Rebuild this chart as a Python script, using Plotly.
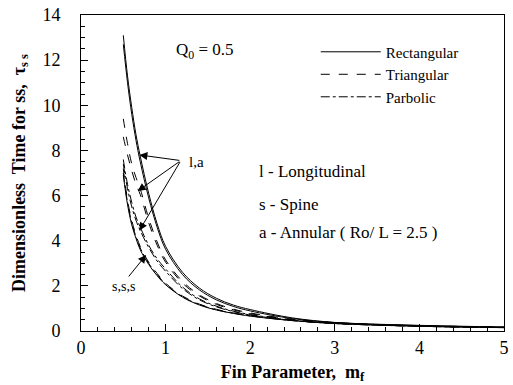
import plotly.graph_objects as go

# Fin parameter grid (x values)
m_f = [0.5, 0.55, 0.6, 0.65, 0.7, 0.8, 0.9, 1.0, 1.2, 1.4, 1.6, 1.8, 2.0, 2.5, 3.0, 3.5, 4.0, 4.5, 5.0]

# Rectangular profile (solid)
rect_long = [13.1, 11.3, 9.9, 8.7, 7.75, 6.1, 4.75, 3.75, 2.6, 1.9, 1.45, 1.15, 0.95, 0.58, 0.38, 0.30, 0.25, 0.21, 0.18]
rect_ann = [12.7, 11.0, 9.6, 8.45, 7.5, 5.9, 4.6, 3.62, 2.5, 1.82, 1.38, 1.09, 0.89, 0.55, 0.37, 0.29, 0.24, 0.20, 0.17]
rect_spine = [6.9, 5.6, 4.7, 4.1, 3.6, 2.95, 2.45, 2.05, 1.5, 1.15, 0.93, 0.78, 0.66, 0.46, 0.33, 0.26, 0.21, 0.17, 0.15]

# Triangular profile (dashed)
tri_long = [9.4, 8.3, 7.4, 6.8, 6.3, 5.0, 3.95, 3.15, 2.2, 1.6, 1.22, 0.97, 0.80, 0.52, 0.37, 0.29, 0.23, 0.20, 0.17]
tri_ann = [8.6, 7.8, 7.1, 6.5, 6.05, 4.8, 3.8, 3.05, 2.12, 1.55, 1.18, 0.94, 0.77, 0.50, 0.36, 0.28, 0.22, 0.19, 0.16]
tri_spine = [7.2, 5.8, 4.9, 4.25, 3.75, 3.05, 2.55, 2.12, 1.55, 1.19, 0.96, 0.80, 0.68, 0.47, 0.34, 0.27, 0.21, 0.18, 0.15]

# Parabolic profile (dash-dot)
para_long = [7.6, 6.5, 5.7, 5.05, 4.6, 3.8, 3.2, 2.75, 1.95, 1.42, 1.10, 0.88, 0.73, 0.48, 0.35, 0.27, 0.22, 0.18, 0.16]
para_ann = [7.4, 6.3, 5.5, 4.9, 4.45, 3.7, 3.1, 2.65, 1.88, 1.38, 1.07, 0.86, 0.71, 0.47, 0.34, 0.26, 0.21, 0.18, 0.15]
para_spine = [7.0, 5.7, 4.8, 4.18, 3.68, 3.0, 2.5, 2.08, 1.52, 1.17, 0.94, 0.79, 0.67, 0.46, 0.33, 0.26, 0.21, 0.17, 0.15]

profiles = ["Rectangular", "Triangular", "Parbolic"]
dashes = ["solid", "dash", "dashdot"]
series = [
    [rect_long, rect_ann, rect_spine],
    [tri_long, tri_ann, tri_spine],
    [para_long, para_ann, para_spine],
]

serif = "Liberation Serif, Times New Roman, serif"

fig = go.Figure()
for name, dash, group in zip(profiles, dashes, series):
    for i, ys in enumerate(group):
        fig.add_trace(go.Scatter(
            x=m_f, y=ys, mode="lines", name=name, legendgroup=name,
            showlegend=(i == 0), line=dict(color="black", width=1, dash=dash, shape="spline"),
        ))

annotations = [
    dict(x=1.47, y=12.4, text="Q<sub>0</sub> = 0.5", showarrow=False,
         font=dict(family=serif, size=17, color="black")),
    dict(x=1.36, y=7.5, text="l,a", showarrow=False,
         font=dict(family=serif, size=15, color="black")),
    dict(x=0.5, y=1.95, text="s,s,s", showarrow=False,
         font=dict(family=serif, size=14, color="black")),
    dict(x=2.08, y=7.05, text="l - Longitudinal", showarrow=False, xanchor="left",
         font=dict(family=serif, size=17, color="black")),
    dict(x=2.08, y=5.6, text="s - Spine", showarrow=False, xanchor="left",
         font=dict(family=serif, size=17, color="black")),
    dict(x=2.08, y=4.35, text="a - Annular ( Ro/ L = 2.5 )", showarrow=False, xanchor="left",
         font=dict(family=serif, size=17, color="black")),
]
# arrows from "l,a"
for tx, ty in [(0.69, 7.8), (0.67, 6.2), (0.69, 4.45)]:
    annotations.append(dict(x=tx, y=ty, ax=1.18, ay=7.55, axref="x", ayref="y",
                            xref="x", yref="y", text="", showarrow=True,
                            arrowhead=2, arrowsize=1.6, arrowwidth=1, arrowcolor="black"))
annotations.append(dict(x=0.77, y=3.37, ax=0.55, ay=2.35, axref="x", ayref="y",
                        xref="x", yref="y", text="", showarrow=True,
                        arrowhead=2, arrowsize=1.6, arrowwidth=1, arrowcolor="black"))

fig.update_layout(
    width=513, height=385,
    margin=dict(l=81, r=4, t=15, b=54),
    paper_bgcolor="white", plot_bgcolor="white",
    font=dict(family=serif, color="black"),
    annotations=annotations,
    legend=dict(x=0.555, y=0.935, xanchor="left", yanchor="top",
                bgcolor="rgba(0,0,0,0)", font=dict(family=serif, size=15, color="black"),
                itemwidth=60, tracegroupgap=0),
    xaxis=dict(range=[0, 5], dtick=1, tick0=0, showgrid=False, zeroline=False,
               showline=True, linecolor="black", linewidth=1, mirror=True,
               ticks="inside", ticklen=7, tickcolor="black", ticklabeloverflow="allow",
               minor=dict(dtick=0.2, ticks="inside", ticklen=4, tickcolor="black"),
               tickfont=dict(family=serif, size=18, color="black"),
               title=dict(text="<b>Fin Parameter,  m<sub>f</sub></b>", standoff=8,
                          font=dict(family=serif, size=18, color="black"))),
    yaxis=dict(range=[0, 14], dtick=2, tick0=0, showgrid=False, zeroline=False,
               showline=True, linecolor="black", linewidth=1, mirror=True,
               ticks="inside", ticklen=7, tickcolor="black", ticklabelstandoff=16,
               minor=dict(dtick=0.5, ticks="inside", ticklen=4, tickcolor="black"),
               tickfont=dict(family=serif, size=18, color="black"),
               title=dict(text="<b>Dimensionless  Time for ss,  τ<sub>s s</sub></b>", standoff=12,
                          font=dict(family=serif, size=18, color="black"))),
)

fig.write_html("out.html")
